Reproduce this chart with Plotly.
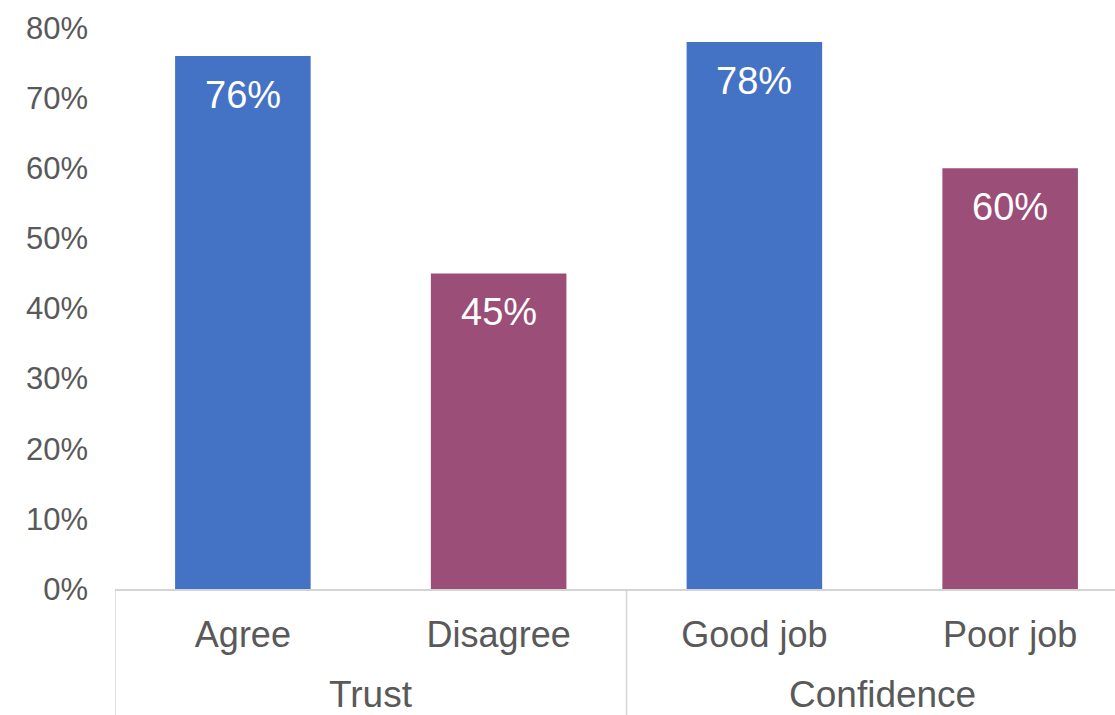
import plotly.graph_objects as go

# Survey results: two question groups, two answers each
groups = ["Trust", "Trust", "Confidence", "Confidence"]
answers = ["Agree", "Disagree", "Good job", "Poor job"]
shares = [0.76, 0.45, 0.78, 0.60]
bar_colors = ["#4472C4", "#9B4E78", "#4472C4", "#9B4E78"]
y_ticks = [0, 0.1, 0.2, 0.3, 0.4, 0.5, 0.6, 0.7, 0.8]

FONT = "Liberation Sans, Arial, sans-serif"
TEXT = "#595959"
LINE = "#D4D4D4"

positions = list(range(len(answers)))

fig = go.Figure(
    go.Bar(
        x=positions,
        y=shares,
        width=0.53,
        marker=dict(color=bar_colors, line=dict(width=0)),
        hoverinfo="skip",
    )
)

# value labels just inside the top of each bar
for xi, v in zip(positions, shares):
    fig.add_annotation(
        x=xi, y=v, xref="x", yref="y",
        text=f"{v:.0%}", showarrow=False, yshift=-39,
        font=dict(family=FONT, size=38, color="white"),
    )

# group labels and the separators between groups
group_names = list(dict.fromkeys(groups))
start = 0
for g in group_names:
    n = groups.count(g)
    center = start + (n - 1) / 2
    fig.add_annotation(
        x=center, y=-0.1875, xref="x", yref="paper",
        text=g, showarrow=False, yanchor="middle",
        font=dict(family=FONT, size=37, color=TEXT),
    )
    fig.add_shape(
        type="line", xref="x", yref="paper",
        x0=start - 0.5, x1=start - 0.5, y0=0, y1=-0.3,
        line=dict(color=LINE, width=1.5),
    )
    start += n
fig.add_shape(
    type="line", xref="x", yref="paper",
    x0=start - 0.5, x1=start - 0.5, y0=0, y1=-0.3,
    line=dict(color=LINE, width=1.5),
)

fig.update_layout(
    width=1115,
    height=715,
    margin=dict(l=115, r=0, t=28, b=126),
    paper_bgcolor="white",
    plot_bgcolor="white",
    showlegend=False,
    font=dict(family=FONT, color=TEXT),
    xaxis=dict(
        tickmode="array",
        tickvals=positions,
        ticktext=answers,
        range=[-0.5, 3.41],
        showgrid=False,
        zeroline=False,
        showline=True,
        linecolor=LINE,
        linewidth=1.5,
        ticks="",
        tickfont=dict(family=FONT, size=36, color=TEXT),
        ticklabelstandoff=13,
    ),
    yaxis=dict(
        range=[0, 0.8],
        tickvals=y_ticks,
        tickformat=".0%",
        showgrid=False,
        zeroline=False,
        showline=False,
        ticks="",
        tickfont=dict(family=FONT, size=31, color=TEXT),
        ticklabelstandoff=26,
    ),
)

fig.write_html("out.html")
